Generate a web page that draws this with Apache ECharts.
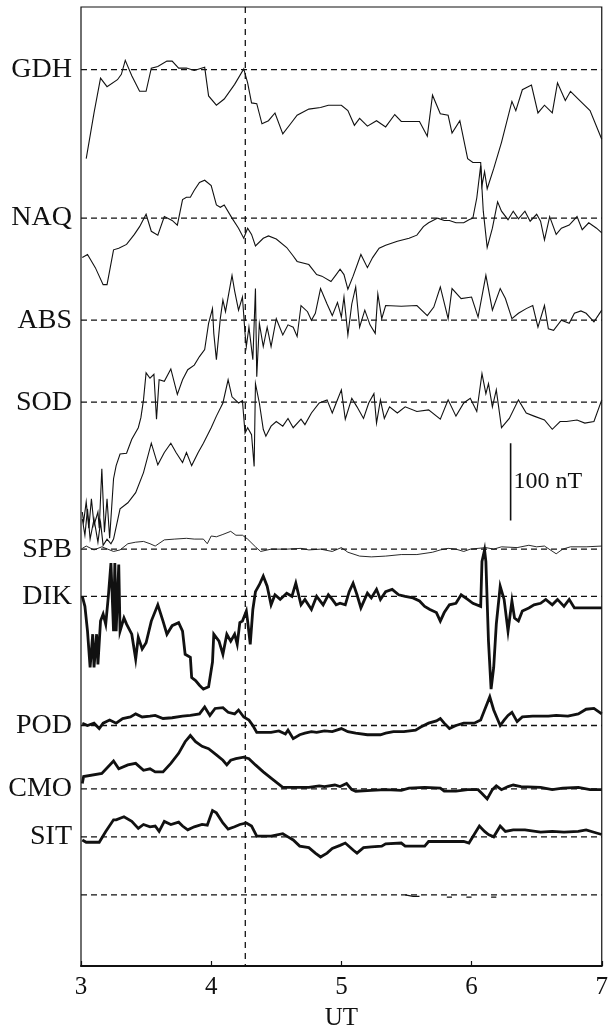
<!DOCTYPE html>
<html>
<head>
<meta charset="utf-8">
<script src="https://cdn.jsdelivr.net/npm/echarts@6/dist/echarts.min.js"></script>
<style>
  html, body { margin: 0; padding: 0; background: #fff; }
  #chart { width: 611px; height: 1036px; }
</style>
</head>
<body>
<div id="chart"></div>
<script>
// stations, top to bottom; offsets = baseline position in nT below the top
var stations = ['GDH', 'NAQ', 'ABS', 'SOD', 'SPB', 'DIK', 'POD', 'CMO', 'SIT', '']
var offsets = [81, 273, 405, 511, 701, 762, 929, 1011, 1073, 1148]
var thick = [false, false, false, false, false, true, true, true, true, false]
var yMax = 1240
var onsetUT = 4.262
var xTicks = [3, 4, 5, 6, 7]

// [UT, deflection nT]
var gdh = [[3.04,-115],[3.10,-56],[3.15,-11],[3.20,-22],[3.28,-13],[3.31,-6],[3.34,12],[3.39,-8],[3.45,-28],[3.50,-28],[3.54,2],[3.59,4],[3.66,11],[3.70,11],[3.75,2],[3.81,2],[3.87,-1],[3.95,3],[3.98,-34],[4.04,-46],[4.10,-38],[4.18,-19],[4.25,1],[4.28,-17],[4.31,-43],[4.35,-44],[4.39,-70],[4.44,-66],[4.49,-56],[4.55,-83],[4.61,-70],[4.66,-59],[4.75,-51],[4.84,-49],[4.90,-46],[5.00,-46],[5.05,-53],[5.10,-72],[5.14,-63],[5.20,-73],[5.27,-66],[5.34,-74],[5.41,-58],[5.46,-67],[5.60,-67],[5.66,-86],[5.70,-33],[5.76,-57],[5.82,-59],[5.85,-82],[5.91,-66],[5.97,-115],[6.01,-120],[6.07,-120],[6.08,-150],[6.10,-132],[6.12,-154],[6.17,-128],[6.23,-94],[6.31,-41],[6.34,-53],[6.39,-26],[6.46,-20],[6.51,-56],[6.56,-46],[6.62,-56],[6.66,-17],[6.72,-40],[6.76,-28],[6.82,-38],[6.91,-53],[7.00,-90]]
var naq = [[3.01,-51],[3.05,-47],[3.11,-64],[3.17,-86],[3.20,-86],[3.25,-41],[3.29,-39],[3.35,-34],[3.41,-21],[3.45,-11],[3.50,5],[3.54,-17],[3.59,-22],[3.64,2],[3.70,-3],[3.74,-9],[3.78,24],[3.81,27],[3.84,27],[3.87,36],[3.91,46],[3.95,49],[4.00,42],[4.04,17],[4.07,14],[4.10,17],[4.16,0],[4.21,-13],[4.25,-26],[4.28,-13],[4.31,-21],[4.34,-36],[4.40,-26],[4.44,-23],[4.50,-27],[4.58,-38],[4.63,-49],[4.66,-56],[4.75,-60],[4.81,-73],[4.85,-75],[4.92,-82],[4.96,-73],[4.99,-66],[5.02,-73],[5.05,-92],[5.09,-75],[5.15,-47],[5.20,-64],[5.24,-51],[5.29,-39],[5.34,-35],[5.43,-30],[5.52,-26],[5.58,-22],[5.63,-11],[5.67,-6],[5.74,0],[5.79,-3],[5.83,-3],[5.88,-6],[5.94,-6],[5.98,-2],[6.01,0],[6.04,26],[6.07,68],[6.09,9],[6.12,-38],[6.16,-13],[6.20,21],[6.23,9],[6.28,-2],[6.32,9],[6.36,-1],[6.41,9],[6.45,-4],[6.50,5],[6.53,-4],[6.56,-28],[6.60,2],[6.65,-21],[6.69,-13],[6.75,-9],[6.81,2],[6.85,-15],[6.90,-6],[6.96,-13],[7.00,-19]]
var abs = [[3.01,-248],[3.02,-261],[3.04,-235],[3.06,-269],[3.08,-231],[3.10,-265],[3.13,-248],[3.14,-269],[3.16,-192],[3.18,-274],[3.20,-231],[3.22,-282],[3.25,-205],[3.27,-188],[3.30,-173],[3.35,-172],[3.39,-154],[3.44,-139],[3.46,-126],[3.48,-103],[3.50,-68],[3.53,-75],[3.56,-70],[3.58,-128],[3.60,-77],[3.64,-79],[3.69,-63],[3.74,-96],[3.78,-77],[3.82,-64],[3.87,-58],[3.91,-47],[3.95,-38],[3.98,-4],[4.01,15],[4.02,-17],[4.04,-51],[4.07,2],[4.09,26],[4.11,11],[4.16,58],[4.18,38],[4.21,13],[4.24,30],[4.26,-17],[4.27,-34],[4.29,-9],[4.32,-51],[4.34,41],[4.35,-73],[4.37,-4],[4.40,-34],[4.43,-9],[4.46,-34],[4.50,2],[4.55,-19],[4.59,-6],[4.63,-9],[4.66,-21],[4.69,19],[4.74,11],[4.77,0],[4.80,9],[4.84,41],[4.89,21],[4.93,6],[4.97,23],[5.00,4],[5.02,30],[5.05,-19],[5.08,21],[5.11,43],[5.14,-9],[5.18,13],[5.22,-6],[5.26,-17],[5.28,34],[5.31,2],[5.34,19],[5.46,18],[5.58,19],[5.66,6],[5.71,17],[5.76,43],[5.82,2],[5.85,41],[5.92,28],[6.00,30],[6.05,4],[6.11,58],[6.16,13],[6.22,41],[6.26,28],[6.31,2],[6.36,9],[6.42,15],[6.47,19],[6.51,-9],[6.56,19],[6.59,-11],[6.63,-13],[6.69,0],[6.75,-4],[6.79,9],[6.84,12],[6.88,9],[6.94,-2],[7.00,13]]
var sod = [[3.01,-151],[3.03,-172],[3.05,-138],[3.07,-177],[3.10,-151],[3.13,-181],[3.15,-155],[3.17,-185],[3.20,-177],[3.23,-183],[3.25,-177],[3.30,-138],[3.36,-130],[3.42,-117],[3.48,-91],[3.54,-53],[3.59,-81],[3.64,-65],[3.69,-53],[3.73,-65],[3.78,-78],[3.81,-65],[3.85,-82],[3.90,-65],[3.94,-53],[4.00,-33],[4.04,-18],[4.09,-1],[4.13,29],[4.16,7],[4.21,-1],[4.24,2],[4.26,-40],[4.28,-33],[4.31,-42],[4.33,-83],[4.34,24],[4.37,-1],[4.40,-35],[4.42,-44],[4.46,-31],[4.50,-25],[4.55,-31],[4.59,-21],[4.63,-33],[4.69,-22],[4.72,-29],[4.77,-14],[4.83,-1],[4.89,3],[4.93,-14],[4.96,-1],[5.00,16],[5.03,-22],[5.08,5],[5.12,-6],[5.17,-21],[5.21,-1],[5.25,11],[5.27,-27],[5.30,3],[5.33,-21],[5.37,-6],[5.43,-14],[5.49,-6],[5.58,-12],[5.67,-10],[5.76,-22],[5.82,3],[5.88,-18],[5.94,-1],[5.99,5],[6.04,-12],[6.08,37],[6.11,11],[6.13,24],[6.16,-6],[6.19,16],[6.23,-33],[6.29,-21],[6.36,3],[6.42,-14],[6.48,-18],[6.56,-23],[6.62,-35],[6.68,-25],[6.73,-25],[6.81,-23],[6.87,-27],[6.94,-25],[7.00,3]]
var spb = [[3.01,1],[3.04,4],[3.10,-1],[3.16,3],[3.25,-3],[3.30,-1],[3.36,7],[3.42,9],[3.48,10],[3.53,7],[3.57,4],[3.64,12],[3.72,13],[3.81,14],[3.87,13],[3.94,13],[3.97,7],[4.00,17],[4.04,16],[4.09,19],[4.15,23],[4.19,18],[4.24,18],[4.28,13],[4.34,3],[4.38,-3],[4.46,0],[4.58,0],[4.69,1],[4.75,-1],[4.84,0],[4.93,-3],[5.00,2],[5.05,-4],[5.14,-9],[5.23,-10],[5.34,-9],[5.46,-7],[5.58,-7],[5.70,-4],[5.76,-1],[5.82,1],[5.88,0],[5.94,-3],[5.99,0],[6.05,1],[6.11,2],[6.17,0],[6.23,3],[6.35,2],[6.44,5],[6.50,3],[6.56,4],[6.65,-6],[6.70,0],[6.76,3],[6.88,3],[7.00,4]]
var dik = [[3.01,0],[3.03,-13],[3.05,-45],[3.07,-92],[3.09,-49],[3.10,-92],[3.12,-49],[3.13,-88],[3.15,-32],[3.17,-23],[3.19,-36],[3.21,0],[3.23,43],[3.25,-45],[3.26,43],[3.27,-45],[3.29,41],[3.30,-45],[3.33,-28],[3.35,-36],[3.39,-49],[3.42,-81],[3.44,-53],[3.47,-68],[3.50,-60],[3.54,-32],[3.59,-11],[3.63,-32],[3.66,-49],[3.70,-38],[3.75,-34],[3.78,-45],[3.80,-75],[3.84,-79],[3.85,-105],[3.88,-109],[3.91,-115],[3.94,-120],[3.98,-117],[4.01,-85],[4.02,-49],[4.06,-58],[4.09,-75],[4.12,-49],[4.15,-58],[4.18,-49],[4.20,-62],[4.22,-34],[4.24,-32],[4.27,-19],[4.28,-32],[4.30,-62],[4.32,-17],[4.34,6],[4.37,15],[4.40,26],[4.43,13],[4.46,-11],[4.49,2],[4.53,-4],[4.58,4],[4.62,0],[4.65,17],[4.69,-11],[4.72,-4],[4.77,-17],[4.81,0],[4.86,-11],[4.90,2],[4.93,-4],[4.96,-11],[4.99,-9],[5.03,-11],[5.06,6],[5.09,17],[5.12,2],[5.15,-15],[5.20,4],[5.23,-2],[5.27,9],[5.30,-4],[5.34,6],[5.39,9],[5.44,2],[5.49,0],[5.55,-2],[5.60,-6],[5.64,-13],[5.68,-17],[5.73,-21],[5.76,-32],[5.79,-21],[5.83,-11],[5.88,-9],[5.92,2],[5.97,-4],[6.01,-9],[6.07,-13],[6.08,45],[6.10,60],[6.11,45],[6.13,-58],[6.15,-120],[6.17,-92],[6.19,-36],[6.22,13],[6.25,-4],[6.28,-45],[6.31,-6],[6.33,-28],[6.36,-32],[6.39,-19],[6.44,-15],[6.48,-11],[6.53,-9],[6.57,-4],[6.62,-11],[6.66,-4],[6.71,-13],[6.75,-4],[6.79,-15],[6.88,-15],[7.00,-15]]
var pod = [[3.01,3],[3.05,0],[3.10,3],[3.14,-4],[3.17,3],[3.22,7],[3.27,3],[3.32,9],[3.38,11],[3.42,15],[3.47,11],[3.53,12],[3.57,13],[3.63,9],[3.70,10],[3.78,12],[3.84,13],[3.91,15],[3.95,24],[3.99,13],[4.03,22],[4.09,23],[4.13,17],[4.18,15],[4.21,20],[4.25,11],[4.29,7],[4.32,0],[4.35,-9],[4.46,-9],[4.52,-7],[4.57,-11],[4.59,-6],[4.63,-17],[4.68,-12],[4.72,-10],[4.77,-8],[4.81,-9],[4.87,-7],[4.93,-8],[5.00,-4],[5.05,-8],[5.11,-10],[5.20,-12],[5.30,-12],[5.34,-10],[5.40,-8],[5.48,-8],[5.57,-6],[5.61,-2],[5.67,3],[5.73,6],[5.76,9],[5.79,3],[5.83,-4],[5.88,0],[5.94,3],[6.02,3],[6.07,7],[6.10,20],[6.14,37],[6.17,20],[6.22,0],[6.25,7],[6.28,13],[6.31,17],[6.35,5],[6.39,11],[6.47,12],[6.59,12],[6.65,13],[6.74,12],[6.82,15],[6.88,21],[6.94,22],[7.00,15]]
var cmo = [[3.01,7],[3.02,16],[3.16,20],[3.25,36],[3.29,26],[3.36,31],[3.42,33],[3.48,24],[3.53,26],[3.57,22],[3.63,22],[3.69,33],[3.75,46],[3.80,61],[3.84,69],[3.88,61],[3.93,55],[3.98,52],[4.04,44],[4.09,37],[4.12,31],[4.15,37],[4.19,39],[4.25,41],[4.29,39],[4.34,31],[4.40,22],[4.46,14],[4.55,2],[4.63,2],[4.75,2],[4.83,4],[4.87,3],[4.95,5],[4.99,3],[5.04,7],[5.08,-1],[5.11,-3],[5.23,-2],[5.34,-1],[5.46,-2],[5.52,1],[5.64,2],[5.76,1],[5.79,-3],[5.88,-3],[5.97,-1],[6.05,-1],[6.08,-6],[6.12,-13],[6.16,-1],[6.19,4],[6.23,-1],[6.28,3],[6.32,5],[6.38,3],[6.53,2],[6.62,-1],[6.70,1],[6.82,2],[6.91,-1],[7.00,-1]]
var sit = [[3.01,-4],[3.04,-7],[3.14,-7],[3.19,7],[3.25,22],[3.27,22],[3.33,26],[3.39,20],[3.44,11],[3.48,16],[3.53,13],[3.57,14],[3.60,7],[3.64,20],[3.69,16],[3.75,19],[3.78,14],[3.82,9],[3.87,13],[3.93,16],[3.97,15],[4.01,34],[4.04,31],[4.09,18],[4.13,10],[4.18,13],[4.22,16],[4.27,18],[4.31,14],[4.35,1],[4.46,1],[4.55,4],[4.59,0],[4.63,-4],[4.68,-12],[4.75,-14],[4.80,-21],[4.84,-26],[4.89,-21],[4.93,-15],[4.99,-11],[5.03,-8],[5.09,-17],[5.12,-21],[5.17,-14],[5.23,-13],[5.31,-12],[5.34,-9],[5.46,-8],[5.49,-12],[5.64,-12],[5.67,-6],[5.79,-6],[5.94,-6],[5.98,-8],[6.02,3],[6.06,14],[6.10,7],[6.13,3],[6.17,0],[6.22,14],[6.26,7],[6.32,9],[6.41,9],[6.53,6],[6.62,7],[6.71,6],[6.82,7],[6.88,9],[6.96,5],[7.00,3]]
var lastRow = [[5.49,0],[5.55,-2],[5.60,-2],null,[5.81,-3],[5.85,-3],null,[5.96,-3],[6.00,-3],null,[6.15,-3],[6.19,-3]]

var curves = [gdh, naq, abs, sod, spb, dik, pod, cmo, sit, lastRow]

// scale bar
var barUT = 6.3
var barTop = 564
var barLen = 100

function place (data, off) {
  return data.map(function (p) { return p ? [p[0], off - p[1]] : null })
}

var ink = '#111'
var serif = 'Liberation Serif, Times New Roman, serif'
var series = []

// dashed baselines
offsets.forEach(function (off) {
  series.push({
    type: 'line', silent: true, symbol: 'none',
    lineStyle: { color: ink, width: 1.3, type: [6, 4] },
    data: [[3, off], [7, off]]
  })
})

// onset marker
series.push({
  type: 'line', silent: true, symbol: 'none',
  lineStyle: { color: ink, width: 1.3, type: [6, 5] },
  data: [[onsetUT, 0], [onsetUT, yMax]]
})

curves.forEach(function (c, i) {
  series.push({
    name: stations[i],
    type: 'line', silent: true, symbol: 'none', connectNulls: false,
    lineStyle: { color: ink, width: thick[i] ? 2.8 : (i === 4 ? 0.9 : 1.1), join: 'miter' },
    data: place(c, offsets[i])
  })
})

series.push({
  type: 'line', silent: true, symbol: 'none',
  lineStyle: { color: ink, width: 1.6 },
  data: [[barUT, barTop], [barUT, barTop + barLen]]
})
series.push({
  type: 'scatter', silent: true, symbolSize: 0,
  itemStyle: { opacity: 1, color: ink },
  label: {
    show: true, position: 'right', distance: 3, formatter: '100 nT',
    fontFamily: serif, fontSize: 24, color: ink, opacity: 1
  },
  data: [[barUT, barTop + barLen / 2]]
})

var chart = echarts.init(document.getElementById('chart'))
chart.setOption({
  animation: false,
  backgroundColor: '#fff',
  grid: {
    left: 81, right: 5, top: 7, bottom: 62,
    show: true, borderColor: ink, borderWidth: 1.2, backgroundColor: 'transparent'
  },
  xAxis: {
    type: 'value', min: 3, max: 7, interval: 1,
    name: 'UT', nameLocation: 'middle', nameGap: 40,
    nameTextStyle: { fontFamily: serif, fontSize: 25, color: ink },
    axisLine: { show: true, onZero: false, lineStyle: { color: ink, width: 2 } },
    axisTick: { show: true, inside: true, length: 5, lineStyle: { color: ink, width: 1.2 } },
    axisLabel: {
      fontFamily: serif, fontSize: 25, color: ink, margin: 9,
      customValues: xTicks
    },
    splitLine: { show: false }
  },
  yAxis: {
    type: 'value', inverse: true, min: 0, max: yMax,
    axisLine: { show: false },
    axisTick: { show: false },
    splitLine: { show: false },
    axisLabel: {
      show: true, margin: 9, fontFamily: serif, fontSize: 28, color: ink,
      customValues: offsets,
      formatter: function (v) {
        var i = offsets.indexOf(v)
        return i >= 0 ? stations[i] : ''
      }
    }
  },
  series: series
})
</script>
</body>
</html>
